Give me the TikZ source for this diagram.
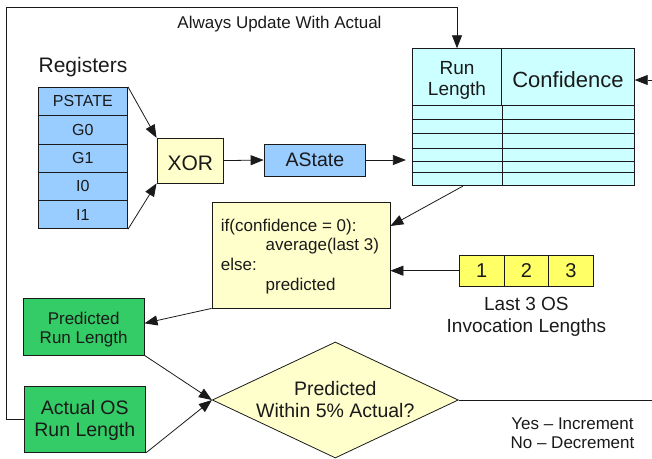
\documentclass[tikz,border=0pt]{standalone}
\usepackage{fontspec}
\setmainfont{Liberation Sans}
\usetikzlibrary{arrows.meta,shapes.geometric,calc}
\definecolor{regblue}{HTML}{99CCFF}
\definecolor{tblcyan}{HTML}{CCFFFF}
\definecolor{paleyel}{HTML}{FFFFCC}
\definecolor{boxgreen}{HTML}{33CC66}
\definecolor{yelbox}{HTML}{FFFF66}
\definecolor{ink}{HTML}{1A1A1A}
\newcommand{\fsz}[2]{\fontsize{#1}{#2}\selectfont}
\begin{document}
\begin{tikzpicture}[x=1pt,y=-1pt,line width=0.8pt,color=ink,
  box/.style={draw,inner sep=0pt,align=center},
  regbox/.style={box,fill=regblue,minimum width=89.6pt,minimum height=28.3pt,font=\fsz{16}{19}},
  hdr/.style={box,fill=tblcyan,minimum height=56.3pt},
  numbox/.style={box,fill=yelbox,minimum width=44.7pt,minimum height=30.7pt,font=\fsz{20}{22}},
  greenbox/.style={box,fill=boxgreen},
  arr/.style={-{Triangle[length=13pt,width=10pt]}},
  plain/.style={inner sep=0pt,align=center}]
\useasboundingbox (0,0) rectangle (652,458);

% registers
\node[plain,font=\fsz{21}{24}] (reglabel) at (83,66.7) {Registers};
\node[regbox] (pstate) at (82.8,101.45) {PSTATE};
\node[regbox] (g0) at (82.8,129.75) {G0};
\node[regbox] (g1) at (82.8,158.05) {G1};
\node[regbox] (i0) at (82.8,186.35) {I0};
\node[regbox] (i1) at (82.8,214.65) {I1};

% XOR and AState
\node[box,fill=paleyel,minimum width=66.7pt,minimum height=44.7pt,font=\fsz{21}{24},text height=19pt,text depth=0pt] (xor) at (190.3,160.6) {XOR};
\node[box,fill=regblue,minimum width=101.7pt,minimum height=32pt,font=\fsz{19.5}{22}] (astate) at (314.9,160) {AState};

% table
\node[hdr,minimum width=89.4pt] (rl) at (457,76.85) {};
\node[plain,font=\fsz{19}{21}] (rltxt) at (457,80) {Run\\Length};
\node[hdr,minimum width=132.6pt,font=\fsz{22}{24},text height=22pt,text depth=0pt] (conf) at (568,76.85) {Confidence};
\node[box,fill=tblcyan,minimum width=222pt,minimum height=80.7pt] (tblbody) at (523.3,145.35) {};
\foreach \yy in {119,133.3,148.3,161.7,172.7}
  \draw (tblbody.west |- 0,\yy) -- (tblbody.east |- 0,\yy);
\draw (rl.south east) -- (rl.south east |- tblbody.south);

% if box
\node[box,fill=paleyel,minimum width=178pt,minimum height=106pt] (ifbox) at (301,255) {};
\node[plain,align=left,font=\fsz{17}{19.9}] (iftxt) at (300,256.5)
  {if(confidence = 0):\\\hspace*{44.7pt}average(last 3)\\else:\\\hspace*{44.7pt}predicted};

% last 3
\node[numbox] (b1) at (481.7,270.7) {1};
\node[numbox] (b2) at (526.4,270.7) {2};
\node[numbox] (b3) at (571,270.7) {3};
\node[plain,font=\fsz{19}{22}] (lastlabel) at (526.4,316.5) {Last 3 OS\\Invocation Lengths};

% green boxes
\node[greenbox,minimum width=120.7pt,minimum height=56.3pt] (pred) at (83.7,326.8) {};
\node[plain,font=\fsz{17}{19}] (predtxt) at (83.7,330) {Predicted\\Run Length};
\node[greenbox,minimum width=121.7pt,minimum height=66.3pt] (actual) at (84.8,419.2) {};
\node[plain,font=\fsz{19.5}{21.7}] (actualtxt) at (84.8,420.5) {Actual OS\\Run Length};

% diamond
\node[diamond,draw,fill=paleyel,minimum width=246pt,minimum height=116pt,inner sep=0pt] (dia) at (335.3,400) {};
\node[plain,font=\fsz{19.5}{22}] (diatext) at (335.3,399.5) {Predicted\\Within 5\% Actual?};
\node[plain,font=\fsz{17}{19}] (yesno) at (572.5,433) {Yes -- Increment\\No -- Decrement};

% loop
\node[plain,font=\fsz{17}{20}] (always) at (279.5,24) {Always Update With Actual};
\coordinate (lp) at (6.7,7.7);
\coordinate (confin) at (652,80);
\coordinate (rightend) at (652,400);

% connectors
\draw[arr] (pstate.north east) -- (xor.north west);
\draw[arr] (i1.south east) -- (xor.south west);
\draw[arr] (xor.east) -- (astate.west);
\draw[arr,shorten >=6pt] (astate.east) -- (tblbody.west |- astate.east);
\draw[arr] (confin) -- (conf.east |- confin);
\draw[arr] (actual.west) -| (lp) -| (rl.north);
\draw[arr] ([xshift=51pt]tblbody.south west) -- ([yshift=29pt]ifbox.east);
\draw[arr] (b1.west) -- (ifbox.east |- b1.west);
\draw[arr] (ifbox.south west) -- ([yshift=3.5pt]pred.east);
\draw[arr] (pred.south east) -- (dia.west);
\draw[arr] (actual.south east) -- (dia.west);
\draw (dia.east) -- (rightend);
\end{tikzpicture}
\end{document}
